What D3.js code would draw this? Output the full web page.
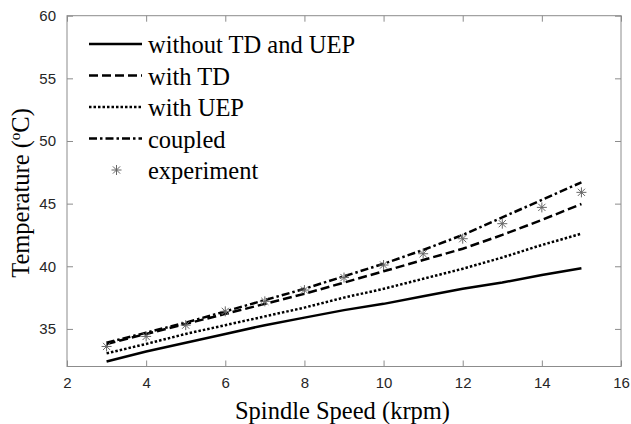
<!DOCTYPE html>
<html>
<head>
<meta charset="utf-8">
<script src="https://cdn.jsdelivr.net/npm/d3@7"></script>
<style>
  body { margin: 0; background: #fff; }
  svg { display: block; }
  .tick text { font-family: "Liberation Sans", Arial, sans-serif; font-size: 15px; fill: #262626; }
  .lbl { font-family: "Liberation Serif", "Times New Roman", serif; font-size: 24.5px; fill: #000; }
</style>
</head>
<body>
<svg id="chart"></svg>
<script>
const w = 631;
const h = 424;

// spindle speed (krpm)
const speeds = [3, 4, 5, 6, 7, 8, 9, 10, 11, 12, 13, 14, 15];
// temperature (degC) per model
const withoutTdUep = [32.4, 33.2, 33.9, 34.6, 35.3, 35.9, 36.5, 37.0, 37.6, 38.2, 38.7, 39.3, 39.85];
const withTd = [33.8, 34.6, 35.4, 36.2, 37.0, 37.8, 38.7, 39.6, 40.5, 41.4, 42.5, 43.7, 44.97];
const withUep = [33.05, 33.8, 34.6, 35.3, 36.0, 36.7, 37.5, 38.2, 39.0, 39.8, 40.7, 41.7, 42.6];
const coupled = [33.9, 34.7, 35.5, 36.4, 37.3, 38.2, 39.2, 40.2, 41.3, 42.5, 43.9, 45.3, 46.7];
const experiment = [33.6, 34.4, 35.3, 36.4, 37.2, 38.1, 39.1, 40.1, 41.0, 42.2, 43.4, 44.7, 45.9];

const xTicks = [2, 4, 6, 8, 10, 12, 14, 16];
const yTicks = [35, 40, 45, 50, 55, 60];

const series = [
  { name: "without TD and UEP", values: withoutTdUep, dash: null },
  { name: "with TD", values: withTd, dash: "9,4" },
  { name: "with UEP", values: withUep, dash: "2.5,2" },
  { name: "coupled", values: coupled, dash: "8,3,2.5,3" }
];

const svg = d3.select("#chart").attr("width", w).attr("height", h);

const x = d3.scaleLinear().domain([2, 16]).range([67, 621]);
const y = d3.scaleLinear().domain([32, 60]).range([366.5, 15.7]);

const axisColor = "#8c8c8c";
const tickLen = 6;

// axes, ticks pointing inward like matlab
const gx = svg.append("g").attr("transform", `translate(0,${y(32)})`)
  .call(d3.axisBottom(x).tickValues(xTicks).tickSizeInner(-tickLen).tickSizeOuter(0).tickPadding(11));
const gy = svg.append("g").attr("transform", `translate(${x(2)},0)`)
  .call(d3.axisLeft(y).tickValues(yTicks).tickSizeInner(-tickLen).tickSizeOuter(0).tickPadding(11));
svg.append("g").attr("transform", `translate(0,${y(60)})`)
  .call(d3.axisTop(x).tickValues(xTicks).tickSizeInner(-tickLen).tickSizeOuter(0).tickFormat(""));
svg.append("g").attr("transform", `translate(${x(16)},0)`)
  .call(d3.axisRight(y).tickValues(yTicks).tickSizeInner(-tickLen).tickSizeOuter(0).tickFormat(""));

svg.selectAll(".domain").remove();
svg.selectAll(".tick line").attr("stroke", axisColor);
gx.selectAll(".tick text").attr("dy", "0.71em");

svg.append("rect")
  .attr("x", x(2)).attr("y", y(60))
  .attr("width", x(16) - x(2)).attr("height", y(32) - y(60))
  .attr("fill", "none").attr("stroke", axisColor).attr("stroke-width", 1);

// model lines
const line = d3.line().x((d, i) => x(speeds[i])).y(d => y(d));
series.forEach(s => {
  svg.append("path")
    .datum(s.values)
    .attr("d", line)
    .attr("fill", "none")
    .attr("stroke", "#000")
    .attr("stroke-width", 2.5)
    .attr("stroke-dasharray", s.dash);
});

// asterisk marker
function star(g, cx, cy) {
  const r = 5, q = 3.6;
  g.append("path")
    .attr("d", `M${cx - r},${cy}L${cx + r},${cy}M${cx},${cy - r}L${cx},${cy + r}` +
      `M${cx - q},${cy - q}L${cx + q},${cy + q}M${cx - q},${cy + q}L${cx + q},${cy - q}`)
    .attr("stroke", "#666").attr("stroke-width", 1).attr("fill", "none");
}
const stars = svg.append("g");
experiment.forEach((v, i) => star(stars, x(speeds[i]), y(v)));

// legend
const legendRows = [44, 75.5, 107, 138.5, 170];
const leg = svg.append("g");
series.forEach((s, i) => {
  leg.append("line")
    .attr("x1", 89).attr("x2", 142)
    .attr("y1", legendRows[i]).attr("y2", legendRows[i])
    .attr("stroke", "#000").attr("stroke-width", 2.5)
    .attr("stroke-dasharray", s.dash);
  leg.append("text").attr("class", "lbl")
    .attr("x", 148).attr("y", legendRows[i] + 9).text(s.name);
});
star(leg, 116.5, legendRows[4]);
leg.append("text").attr("class", "lbl")
  .attr("x", 148).attr("y", legendRows[4] + 9).text("experiment");

// axis titles
svg.append("text").attr("class", "lbl")
  .attr("x", 342.5).attr("y", 419)
  .attr("text-anchor", "middle")
  .text("Spindle Speed (krpm)");

const yt = svg.append("text").attr("class", "lbl")
  .attr("transform", "translate(29,193) rotate(-90)")
  .attr("text-anchor", "middle");
yt.append("tspan").text("Temperature (");
yt.append("tspan").attr("font-size", "15px").attr("dy", "-9").text("o");
yt.append("tspan").attr("dy", "9").text("C)");
</script>
</body>
</html>
